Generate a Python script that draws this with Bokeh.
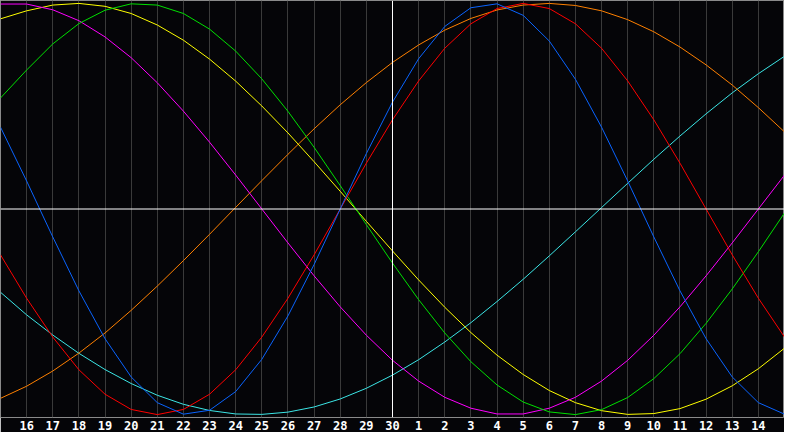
from bokeh.plotting import figure
from bokeh.models import Range1d, FixedTicker, Span
from bokeh.embed import file_html
from bokeh.resources import INLINE

# day index 0..30 (day 15 of the month .. day 15 of next month)
days = list(range(31))
day_labels = ["15", "16", "17", "18", "19", "20", "21", "22", "23", "24", "25", "26",
              "27", "28", "29", "30", "1", "2", "3", "4", "5", "6", "7", "8", "9",
              "10", "11", "12", "13", "14", "15"]
today = 15

# cycle values (-1 .. 1)
physical = [0.398, 0.136, -0.136, -0.398, -0.631, -0.817, -0.942, -0.998, -0.979, -0.888,
            -0.731, -0.520, -0.270, 0.0, 0.270, 0.520, 0.731, 0.888, 0.979, 0.998,
            0.942, 0.817, 0.631, 0.398, 0.136, -0.136, -0.398, -0.631, -0.817, -0.942, -0.998]
emotional = [-0.223, -0.434, -0.623, -0.782, -0.901, -0.975, -1.0, -0.975, -0.901, -0.782,
             -0.623, -0.434, -0.223, 0.0, 0.223, 0.434, 0.623, 0.782, 0.901, 0.975,
             1.0, 0.975, 0.901, 0.782, 0.623, 0.434, 0.223, 0.0, -0.223, -0.434, -0.623]
intellectual = [0.540, 0.676, 0.803, 0.902, 0.967, 0.998, 0.992, 0.951, 0.875, 0.768,
                0.633, 0.475, 0.300, 0.114, -0.076, -0.263, -0.441, -0.603, -0.743, -0.856,
                -0.939, -0.987, -1.0, -0.976, -0.917, -0.825, -0.704, -0.556, -0.389, -0.208, -0.019]
intuitive = [0.997, 0.997, 0.969, 0.916, 0.837, 0.736, 0.614, 0.476, 0.325, 0.165,
             0.0, -0.165, -0.325, -0.476, -0.614, -0.736, -0.837, -0.916, -0.969, -0.997,
             -0.997, -0.969, -0.916, -0.837, -0.736, -0.614, -0.476, -0.325, -0.165, 0.0, 0.165]
aesthetic = [0.925, 0.964, 0.992, 1.0, 0.986, 0.951, 0.895, 0.821, 0.729, 0.622,
             0.501, 0.370, 0.230, 0.086, -0.060, -0.204, -0.345, -0.478, -0.601, -0.711,
             -0.805, -0.883, -0.942, -0.981, -0.999, -0.995, -0.971, -0.925, -0.860, -0.777, -0.677]
awareness = [-0.921, -0.862, -0.788, -0.701, -0.603, -0.493, -0.375, -0.251, -0.123, 0.008,
             0.138, 0.266, 0.390, 0.507, 0.615, 0.713, 0.798, 0.870, 0.927, 0.968,
             0.992, 1.0, 0.990, 0.964, 0.921, 0.862, 0.788, 0.701, 0.603, 0.493, 0.375]
spiritual = [-0.405, -0.515, -0.613, -0.702, -0.781, -0.849, -0.906, -0.950, -0.980, -0.997,
             -0.999, -0.988, -0.963, -0.924, -0.872, -0.808, -0.733, -0.647, -0.553, -0.450,
             -0.342, -0.228, -0.111, 0.007, 0.125, 0.242, 0.355, 0.463, 0.565, 0.658, 0.743]

series = [
    (spiritual, "#3ce6e6"),
    (awareness, "#ff8000"),
    (aesthetic, "#ffff00"),
    (intuitive, "#ff00ff"),
    (intellectual, "#00e000"),
    (emotional, "#ff0000"),
    (physical, "#0a64ff"),
]

p = figure(width=784, height=432, output_backend="svg", toolbar_location=None,
           x_range=Range1d(0, 30), y_range=Range1d(-1.0142, 1.0142),
           min_border_left=0, min_border_right=0, min_border_top=0, min_border_bottom=0)
p.background_fill_color = "#050508"
p.border_fill_color = "#050508"
p.outline_line_color = "#8a8a8a"
p.yaxis.visible = False
p.ygrid.visible = False

ticker = FixedTicker(ticks=days[1:30])
p.xaxis.ticker = ticker
p.xaxis.major_label_overrides = {d: lab for d, lab in zip(days, day_labels)}
p.xaxis.axis_line_color = None
p.xaxis.major_tick_line_color = None
p.xaxis.minor_tick_line_color = None
p.xaxis.major_tick_in = 0
p.xaxis.major_tick_out = 0
p.xaxis.major_label_standoff = 3
p.xaxis.major_label_text_color = "white"
p.xaxis.major_label_text_font = "DejaVu Sans Mono"
p.xaxis.major_label_text_font_style = "bold"
p.xaxis.major_label_text_font_size = "12px"

p.xgrid.ticker = ticker
p.xgrid.grid_line_color = "#3a3a3a"
p.xgrid.grid_line_width = 1

p.add_layout(Span(location=today, dimension="height", line_color="white", line_width=1))
p.add_layout(Span(location=0, dimension="width", line_color="white", line_width=1))

for vals, col in series:
    p.line(days, vals, line_color=col, line_width=1)

open("out.html", "w").write(file_html(p, INLINE))
